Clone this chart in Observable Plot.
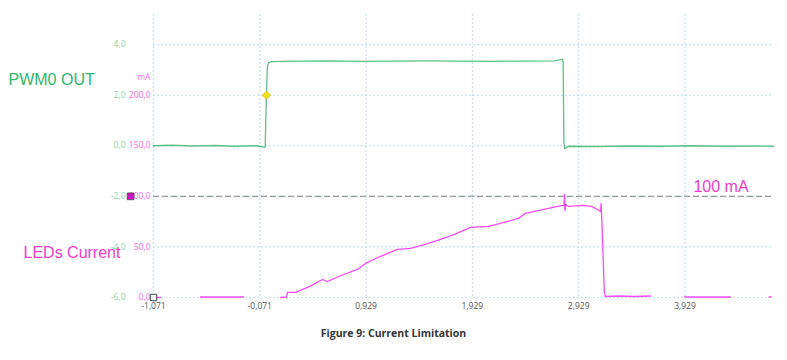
<!DOCTYPE html>
<html>
<head>
<meta charset="utf-8">
<script src="https://cdn.jsdelivr.net/npm/d3@7"></script>
<script src="https://cdn.jsdelivr.net/npm/@observablehq/plot@0.6"></script>
<style>
  html, body { margin: 0; padding: 0; background: #fff; }
  #wrap { position: relative; width: 787px; height: 360px; }
  #caption { position: absolute; left: 0; top: 326px; width: 787px; text-align: center;
    font-family: "Open Sans", sans-serif; font-weight: 700; font-size: 10.5px; color: #333; }
</style>
</head>
<body>
<div id="wrap">
  <div id="chart"></div>
  <div id="caption">Figure 9: Current Limitation</div>
</div>
<script>
// ---- data ----
// time axis (ms) ticks and labels
const xTicks = [-1.071, -0.071, 0.929, 1.929, 2.929, 3.929];
const xTickLabels = ["-1,071", "-0,071", "0,929", "1,929", "2,929", "3,929"];
// voltage axis (left, green)
const vTicks = [-6, -4, -2, 0, 2, 4];
const vTickLabels = ["-6,0", "-4,0", "-2,0", "0,0", "2,0", "4,0"];
// current axis (pink), same gridlines
const mATicks = [-6, -4, -2, 0, 2];
const mATickLabels = ["0,0", "50,0", "100,0", "150,0", "200,0"];

// PWM0 OUT trace (V)
const pwmT = [-1.071, -0.9, -0.7, -0.5, -0.3, -0.1, -0.03, -0.02, -0.015, -0.008, 0.0, 0.01, 0.04, 0.3, 0.6, 0.9, 1.2, 1.5, 1.8, 2.1, 2.4, 2.7, 2.775, 2.783, 2.79, 2.80, 2.83, 3.1, 3.4, 3.7, 4.0, 4.3, 4.6, 4.762];
const pwmV = [0.0, 0.02, -0.01, 0.01, -0.02, 0.0, -0.05, -0.05, 1.0, 2.0, 3.1, 3.28, 3.33, 3.35, 3.36, 3.34, 3.35, 3.36, 3.35, 3.34, 3.35, 3.36, 3.42, 3.3, 0.1, -0.12, -0.02, -0.03, -0.01, -0.02, 0.0, -0.02, -0.01, -0.02];

// LEDs Current trace (mA); null = gap in the trace
const ledT = [-1.071, -1.005, null, -0.629, -0.224, null,
  0.124, 0.18, 0.19, 0.265, 0.40, 0.519, 0.566, 0.70, 0.848, 0.923, 1.05, 1.224, 1.347, 1.47, 1.601, 1.75, 1.911, 2.080, 2.22, 2.363, 2.429, 2.6, 2.777, 2.790, 2.796, 2.800, 2.81, 2.833, 2.974, 3.05, 3.106, 3.134, 3.14, 3.153, 3.17, 3.181, 3.3, 3.45, 3.605, null,
  3.924, 4.1, 4.357, null, 4.72, 4.74];
const ledMA = [0, 0, null, 0.5, 0.5, null,
  0, 0.5, 5, 5, 11, 17.8, 15.8, 22, 27.7, 33.7, 40, 47.5, 48.5, 52, 56.4, 62, 69.3, 70.3, 74, 78.2, 83.2, 87, 91.1, 91, 102, 86, 92, 90, 91, 90, 87, 85, 93, 60, 5, 1, 1.5, 1, 1.5, null,
  0.5, 0.5, 0.5, null, 0.5, 0.5];

const limitMA = 100; // current limit line
const limitLabel = "100 mA";

// ---- mapping ----
const maToV = ma => ma == null ? null : -6 + ma * 8 / 200;
const pwm = pwmT.map((t, i) => ({t, v: pwmV[i]}));
const led = ledT.map((t, i) => ({t, v: maToV(ledMA[i])}));

const green = "#5cc08a";
const greenLabel = "#8fd3a5";
const pink = "#f64cf6";
const pinkLabel = "#ff6bf0";
const grid = "#c6e3ee";
const tickFont = "Open Sans, sans-serif";

const chart = Plot.plot({
  width: 787,
  height: 320,
  marginLeft: 153,
  marginRight: 14,
  marginTop: 14,
  marginBottom: 23,
  style: {background: "#fff", overflow: "visible"},
  x: {domain: [-1.071, 4.762], label: null},
  y: {domain: [-6, 5.19], label: null},
  marks: [
    Plot.gridX(xTicks, {stroke: grid, strokeOpacity: 1, strokeDasharray: "2,2", strokeWidth: 1.2}),
    Plot.gridY(vTicks, {stroke: grid, strokeOpacity: 1, strokeDasharray: "2,2", strokeWidth: 1.2}),
    Plot.axisX(xTicks, {label: null, tickSize: 0, tickPadding: 5, tickFormat: (d, i) => xTickLabels[i], fill: "#555", fontSize: 8.5, fontFamily: tickFont}),
    Plot.axisY(vTicks, {label: null, tickSize: 0, tickPadding: 28, tickFormat: (d, i) => vTickLabels[i], fill: greenLabel, fontSize: 8.5, fontFamily: tickFont}),
    Plot.axisY(mATicks, {label: null, tickSize: 0, tickPadding: 3, tickFormat: (d, i) => mATickLabels[i], fill: pinkLabel, fontSize: 8.5, fontFamily: tickFont}),
    Plot.text(["mA"], {x: -1.071, y: 2.69, dx: -3, textAnchor: "end", fill: pinkLabel, fontSize: 8.5, fontFamily: tickFont}),
    Plot.ruleY([maToV(limitMA)], {stroke: "#999", strokeWidth: 1.3, strokeDasharray: "6,3"}),
    Plot.line(pwm, {x: "t", y: "v", stroke: green, strokeWidth: 1.3, curve: "linear"}),
    Plot.line(led, {x: "t", y: "v", stroke: pink, strokeWidth: 1.3, curve: "linear"}),
    Plot.dot([{t: -0.008, v: 2.0}], {x: "t", y: "v", symbol: "diamond2", r: 3.6, fill: "#f2e21a", stroke: "#c9b400", strokeWidth: 0.8}),
    Plot.dot([{t: -1.071, v: -6}], {x: "t", y: "v", symbol: "square", r: 3.6, fill: "#fff", stroke: "#444", strokeWidth: 1}),
    Plot.dot([{t: -1.287, v: maToV(limitMA)}], {x: "t", y: "v", symbol: "square", r: 3.8, fill: "#d313c3", stroke: "#444", strokeWidth: 0.8}),
    Plot.text(["PWM0 OUT"], {x: -2.435, y: 2.61, textAnchor: "start", fill: "#33b56a", fontSize: 16, fontFamily: "Liberation Sans, Arial, sans-serif"}),
    Plot.text(["LEDs Current"], {x: -2.294, y: -4.23, textAnchor: "start", fill: "#f03cc8", fontSize: 16, fontFamily: "Liberation Sans, Arial, sans-serif"}),
    Plot.text([limitLabel], {x: 4.009, y: -1.62, textAnchor: "start", fill: "#f03cc8", fontSize: 16, fontFamily: "Liberation Sans, Arial, sans-serif"})
  ]
});
document.getElementById("chart").appendChild(chart);
</script>
</body>
</html>
